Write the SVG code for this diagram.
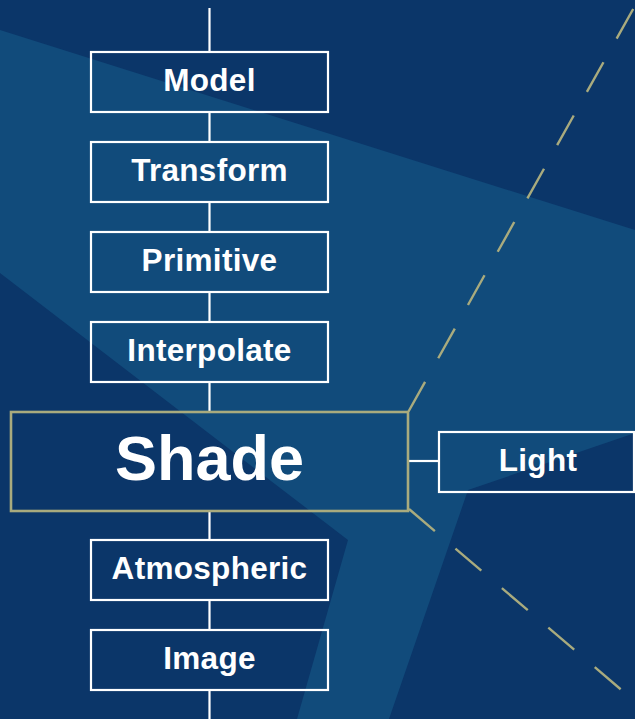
<svg xmlns="http://www.w3.org/2000/svg" width="635" height="719" viewBox="0 0 635 719">
<style>
.box{fill:none;stroke:#ffffff;stroke-width:2.2}
.hl{fill:none;stroke:#a9ab7e;stroke-width:2.6}
.lbl{font-family:"Liberation Sans",Arial,sans-serif;font-weight:bold;font-size:31.5px;fill:#ffffff;text-anchor:middle;letter-spacing:0.3px}
.big{font-size:63px;letter-spacing:0}
.con{stroke:#ffffff;stroke-width:2.2;fill:none}
.dash{stroke:#a9ab7e;stroke-width:2.4;fill:none;stroke-dasharray:34 27}
</style>
<rect x="0" y="0" width="635" height="719" fill="#0b3669"/>
<polygon points="0,30 635,230 635,433 468,490 389,719 297,719 348,540 0,273" fill="#114b7b"/>
<g id="connectors">
<line class="con" x1="209.5" y1="8" x2="209.5" y2="52"/>
<line class="con" x1="209.5" y1="112" x2="209.5" y2="142"/>
<line class="con" x1="209.5" y1="202" x2="209.5" y2="232"/>
<line class="con" x1="209.5" y1="292" x2="209.5" y2="322"/>
<line class="con" x1="209.5" y1="382" x2="209.5" y2="412"/>
<line class="con" x1="209.5" y1="511" x2="209.5" y2="540"/>
<line class="con" x1="209.5" y1="600" x2="209.5" y2="630"/>
<line class="con" x1="209.5" y1="690" x2="209.5" y2="719"/>
<line class="con" x1="408" y1="461" x2="439" y2="461"/>
<line class="dash" x1="408.5" y1="411.5" x2="641" y2="-5"/>
<line class="dash" x1="409" y1="509" x2="645" y2="710"/>
</g>
<g id="model"><rect class="box" x="91" y="52" width="237" height="60"/><text class="lbl" x="209.5" y="91">Model</text></g>
<g id="transform"><rect class="box" x="91" y="142" width="237" height="60"/><text class="lbl" x="209.5" y="181">Transform</text></g>
<g id="primitive"><rect class="box" x="91" y="232" width="237" height="60"/><text class="lbl" x="209.5" y="271">Primitive</text></g>
<g id="interpolate"><rect class="box" x="91" y="322" width="237" height="60"/><text class="lbl" x="209.5" y="361">Interpolate</text></g>
<g id="shade"><rect class="hl" x="11" y="412" width="397" height="99"/><text class="lbl big" x="209.5" y="480">Shade</text></g>
<g id="light"><rect class="box" x="439" y="432" width="195" height="60"/><text class="lbl" x="538" y="471">Light</text></g>
<g id="atmospheric"><rect class="box" x="91" y="540" width="237" height="60"/><text class="lbl" x="209.5" y="579">Atmospheric</text></g>
<g id="image"><rect class="box" x="91" y="630" width="237" height="60"/><text class="lbl" x="209.5" y="669">Image</text></g>
</svg>
